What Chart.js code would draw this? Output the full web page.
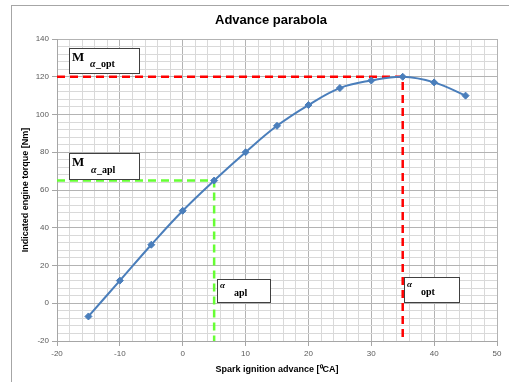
<!DOCTYPE html>
<html>
<head>
<meta charset="utf-8">
<script src="https://cdn.jsdelivr.net/npm/chart.js@4"></script>
<style>
  html, body { margin: 0; padding: 0; background: #fff; }
  #wrap { width: 509px; height: 382px; }
</style>
</head>
<body>
<div id="wrap"><canvas id="advanceChart" width="509" height="382"></canvas></div>
<script>
// Spark advance [deg CA] vs indicated torque [Nm]
var advance = [-15, -10, -5, 0, 5, 10, 15, 20, 25, 30, 35, 40, 45];
var torque  = [-7, 12, 31, 49, 65, 80, 94, 105, 114, 118, 120, 117, 110];

// optimum and applied points (read from the dashed guides)
var optPoint = { x: 35, y: 120 };
var aplPoint = { x: 5, y: 65 };

var xMin = -20, xMax = 50, yMin = -20, yMax = 140;

function guide(p) {
    return [{ x: xMin, y: p.y }, { x: p.x, y: p.y }, { x: p.x, y: yMin }];
}

var majorGrid = '#b3b3b3';
var minorGrid = '#d9d9d9';

// frame, title, axis titles and the text boxes
var decorations = {
    id: 'decorations',
    beforeDraw: function(chart) {
        var c = chart.ctx;
        c.save();
        c.fillStyle = '#fff';
        c.fillRect(0, 0, chart.width, chart.height);
        c.strokeStyle = '#a6a6a6';
        c.lineWidth = 1;
        c.strokeRect(11.5, 5.5, 520, 400);
        c.restore();
    },
    afterDraw: function(chart) {
        var c = chart.ctx;
        var a = chart.chartArea;
        c.save();
        c.fillStyle = '#000';
        c.textAlign = 'center';
        c.textBaseline = 'middle';
        c.font = 'bold 13px "Liberation Sans", Arial, sans-serif';
        c.fillText('Advance parabola', 271, 20);

        c.font = 'bold 9px "Liberation Sans", Arial, sans-serif';
        c.fillText('Spark ignition advance [\u2070CA]', (a.left + a.right) / 2, 370);
        c.save();
        c.translate(26, (a.top + a.bottom) / 2);
        c.rotate(-Math.PI / 2);
        c.fillText('Indicated engine torque [Nm]', 0, 0);
        c.restore();

        function box(x, y, w, h) {
            c.fillStyle = '#fff';
            c.fillRect(x, y, w, h);
            c.strokeStyle = '#404040';
            c.lineWidth = 1;
            c.strokeRect(x + 0.5, y + 0.5, w, h);
            c.fillStyle = '#000';
        }
        c.textAlign = 'left';
        c.textBaseline = 'alphabetic';

        // M alpha_opt
        box(69, 48, 70, 25);
        c.font = 'bold 13px "Liberation Serif", "Times New Roman", serif';
        c.fillText('M', 72, 61);
        c.font = 'bold italic 10px "Liberation Serif", serif';
        c.fillText('\u03b1', 90, 67);
        c.font = 'bold 10px "Liberation Serif", serif';
        c.fillText('_opt', 96, 67);

        // M alpha_apl
        box(69, 153, 70, 26);
        c.font = 'bold 13px "Liberation Serif", "Times New Roman", serif';
        c.fillText('M', 72, 166);
        c.font = 'bold italic 10px "Liberation Serif", serif';
        c.fillText('\u03b1', 91, 173);
        c.font = 'bold 10px "Liberation Serif", serif';
        c.fillText('_apl', 97, 173);

        // alpha apl
        box(217, 279, 53, 23);
        c.font = 'bold italic 9px "Liberation Serif", serif';
        c.fillText('\u03b1', 220, 288);
        c.font = 'bold 10px "Liberation Serif", serif';
        c.fillText('apl', 234, 296);

        // alpha opt
        box(404, 277, 55, 25);
        c.font = 'bold italic 9px "Liberation Serif", serif';
        c.fillText('\u03b1', 407, 287);
        c.font = 'bold 10px "Liberation Serif", serif';
        c.fillText('opt', 421, 295);
        c.restore();
    }
};

new Chart(document.getElementById('advanceChart'), {
    type: 'scatter',
    data: {
        datasets: [
            {
                label: 'Torque',
                data: advance.map(function(x, i) { return { x: x, y: torque[i] }; }),
                showLine: true,
                borderColor: '#4a7ebb',
                backgroundColor: '#4a7ebb',
                borderWidth: 2,
                tension: 0.4,
                pointStyle: 'rectRot',
                pointRadius: 3.5,
                pointBorderWidth: 1,
                order: 1
            },
            {
                label: 'opt',
                data: guide(optPoint),
                showLine: true,
                borderColor: '#ff0000',
                borderWidth: 2.5,
                borderDash: [8, 5],
                pointRadius: 0,
                tension: 0,
                order: 2
            },
            {
                label: 'apl',
                data: guide(aplPoint),
                showLine: true,
                borderColor: '#66ff33',
                borderWidth: 2.5,
                borderDash: [8, 5],
                pointRadius: 0,
                tension: 0,
                order: 3
            }
        ]
    },
    options: {
        responsive: false,
        animation: false,
        layout: { padding: { left: 0, top: 39, right: 12, bottom: 0 } },
        scales: {
            x: {
                type: 'linear',
                min: xMin,
                max: xMax,
                afterFit: function(s) { s.height = 41; },
                ticks: {
                    stepSize: 2,
                    autoSkip: false,
                    maxRotation: 0,
                    color: '#595959',
                    padding: 3,
                    font: { family: '"Liberation Sans", Arial, sans-serif', size: 8 },
                    callback: function(v) { return v % 10 === 0 ? v : ''; }
                },
                grid: {
                    color: function(ctx) { return ctx.tick && ctx.tick.value % 10 === 0 ? majorGrid : minorGrid; },
                    tickColor: function(ctx) { return ctx.tick && ctx.tick.value % 10 === 0 ? '#a6a6a6' : 'rgba(0,0,0,0)'; },
                    tickLength: 5
                },
                border: { color: '#a6a6a6' }
            },
            y: {
                type: 'linear',
                min: yMin,
                max: yMax,
                afterFit: function(s) { s.width = 57; },
                ticks: {
                    stepSize: 4,
                    autoSkip: false,
                    color: '#595959',
                    padding: 3,
                    font: { family: '"Liberation Sans", Arial, sans-serif', size: 8 },
                    callback: function(v) { return v % 20 === 0 ? v : ''; }
                },
                grid: {
                    color: function(ctx) { return ctx.tick && ctx.tick.value % 20 === 0 ? majorGrid : minorGrid; },
                    tickColor: function(ctx) { return ctx.tick && ctx.tick.value % 20 === 0 ? '#a6a6a6' : 'rgba(0,0,0,0)'; },
                    tickLength: 5
                },
                border: { color: '#a6a6a6' }
            }
        },
        plugins: {
            legend: { display: false },
            tooltip: { enabled: false }
        }
    },
    plugins: [decorations]
});
</script>
</body>
</html>
